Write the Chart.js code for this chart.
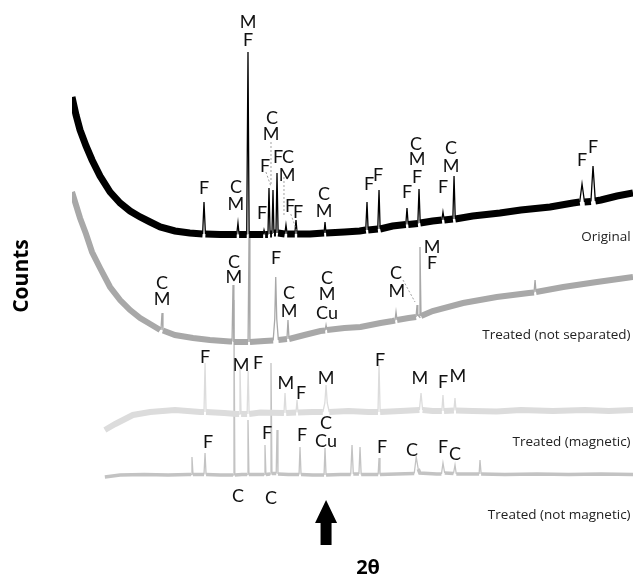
<!DOCTYPE html>
<html>
<head>
<meta charset="utf-8">
<script src="https://cdn.jsdelivr.net/npm/chart.js@4.4.0/dist/chart.umd.min.js"></script>
<style>
  html, body { margin: 0; padding: 0; background: #fff; }
  canvas { display: block; }
</style>
</head>
<body>
<canvas id="xrd" width="633" height="579"></canvas>
<script>
// [2θ (deg), counts] per pattern, already offset vertically like the figure
const original = [
  [10.0,4820],[10.5,4640],[11.0,4490],[11.75,4330],[12.5,4190],[13.5,4030],[14.75,3870],[16.0,3760],
  [17.25,3680],[18.5,3620],[19.75,3570],[21.0,3520],[22.85,3480],[24.7,3460],
  [26.3,3450],[26.47,3770],[26.65,3450],[28.5,3445],
  [30.55,3445],[30.71,3560],[30.85,3445],
  [31.8,3445],[31.96,5270],[32.1,3445],[33.0,3445],
  [33.85,3445],[33.96,3490],[34.1,3445],
  [34.45,3445],[34.58,3910],[34.72,3450],
  [34.95,3450],[35.08,3890],[35.2,3460],
  [35.45,3460],[35.58,4060],[35.72,3460],
  [36.55,3450],[36.7,3540],[36.85,3450],
  [37.8,3450],[37.95,3590],[38.1,3450],[39.7,3450],
  [41.45,3460],[41.57,3570],[41.7,3460],[44.0,3470],[45.9,3480],
  [46.65,3490],[46.81,3770],[46.95,3490],
  [48.15,3500],[48.31,3890],[48.45,3500],[50.0,3530],
  [51.65,3545],[51.8,3710],[51.95,3545],
  [53.15,3555],[53.3,3900],[53.45,3560],[55.0,3580],
  [56.15,3590],[56.29,3670],[56.45,3590],
  [57.52,3600],[57.67,4030],[57.82,3600],
  [60.0,3630],[63.4,3660],[66.0,3690],[69.65,3720],[72.5,3760],
  [73.35,3770],[73.64,3950],[73.95,3770],
  [74.75,3775],[75.01,4130],[75.3,3780],
  [76.0,3790],[78.0,3830],[80.0,3860]
];
const notSeparated = [
  [10.0,3870],[10.5,3740],[11.0,3610],[11.75,3450],[12.5,3270],[13.5,3110],[14.75,2920],[16.0,2790],
  [17.25,2690],[18.5,2610],[19.75,2550],[21.0,2490],
  [21.1,2490],[21.23,2660],[21.35,2485],
  [22.85,2440],[25.1,2410],[27.2,2390],[29.7,2375],
  [29.97,2375],[30.09,2940],[30.2,2370],[31.0,2370],
  [31.97,2370],[32.09,3440],[32.2,2370],[34.0,2380],
  [35.1,2385],[35.3,2600],[35.42,3020],[35.55,2600],[35.75,2390],
  [36.82,2400],[36.95,2590],[37.08,2400],
  [39.0,2440],[41.0,2480],
  [41.58,2485],[41.7,2540],[41.82,2490],
  [44.0,2510],[46.0,2520],[48.5,2560],[50.0,2580],
  [50.3,2585],[50.43,2670],[50.56,2590],[52.0,2610],
  [52.93,2620],[53.05,2740],[53.15,2630],
  [53.3,2640],[53.42,3320],[53.55,2630],
  [55.0,2680],[58.8,2760],[63.0,2820],[67.0,2860],
  [67.65,2865],[67.78,2990],[67.9,2870],
  [71.3,2920],[75.5,2970],[80.0,3020]
];
const magnetic = [
  [14.1,1490],[15.4,1550],[17.6,1640],[19.75,1670],[22.85,1690],[26.0,1670],
  [26.47,1670],[26.6,2160],[26.73,1670],
  [29.0,1660],[30.5,1650],
  [30.85,1650],[30.96,2110],[31.1,1650],
  [31.85,1650],[31.98,2080],[32.1,1650],[33.5,1665],
  [36.45,1660],[36.58,1860],[36.72,1660],
  [37.95,1665],[38.08,1790],[38.2,1665],[40.0,1670],
  [41.3,1670],[41.55,1760],[41.7,1940],[41.85,1760],[42.1,1670],
  [44.5,1680],[47.0,1670],
  [48.18,1670],[48.31,2140],[48.45,1670],[51.0,1680],
  [53.35,1690],[53.55,1860],[53.75,1690],[55.0,1680],
  [56.15,1680],[56.29,1840],[56.42,1680],
  [57.65,1685],[57.79,1810],[57.92,1685],
  [60.0,1680],[63.0,1675],[66.0,1690],[70.0,1680],[74.0,1690],[77.0,1680],[80.0,1690]
];
const notMagnetic = [
  [14.1,1020],[16.0,1040],[19.0,1045],[22.0,1040],[24.5,1045],
  [24.85,1045],[24.97,1220],[25.1,1045],
  [26.47,1045],[26.6,1260],[26.73,1045],
  [28.5,1040],[29.9,1040],
  [30.1,1040],[30.21,2790],[30.32,1040],[31.2,1045],
  [31.85,1045],[31.96,1590],[32.08,1045],[33.5,1045],
  [33.97,1045],[34.08,1340],[34.2,1045],
  [34.72,1050],[34.83,2160],[34.95,1055],
  [35.48,1055],[35.58,1490],[35.7,1050],[37.0,1045],
  [38.33,1045],[38.45,1320],[38.58,1045],[40.0,1040],
  [41.45,1040],[41.57,1310],[41.7,1040],[43.5,1045],
  [44.78,1045],[44.94,1340],[45.1,1050],
  [45.8,1050],[45.94,1320],[46.08,1045],[47.5,1045],
  [48.2,1045],[48.31,1210],[48.43,1045],[50.5,1050],
  [52.7,1055],[52.95,1220],[53.2,1100],[53.4,1060],[55.5,1050],
  [56.1,1050],[56.29,1160],[56.5,1060],
  [57.6,1055],[57.79,1140],[57.95,1050],[60.0,1050],
  [60.8,1050],[60.91,1190],[61.05,1050],
  [64.0,1045],[68.0,1050],[72.0,1045],[76.0,1050],[80.0,1045]
];

const seriesNames = ['Original', 'Treated (not separated)', 'Treated (magnetic)', 'Treated (not magnetic)'];
const seriesData = [original, notSeparated, magnetic, notMagnetic];
const seriesColors = ['#000000', '#a8a8a8', '#dcdcdc', '#c3c3c3'];
const baseWidths = [7, 6, 6, 3.5];
const namePos = [[79.7, 3420], [79.7, 2440], [79.7, 1370], [79.7, 640]];

// phase labels: [text, 2θ, counts]
const phaseLabels = [
  ['M',31.96,5570],['F',31.96,5390],['F',26.47,3910],['C',30.46,3920],['M',30.46,3750],
  ['F',33.71,3660],['C',34.96,4610],['M',34.83,4450],['F',34.08,4130],['F',35.7,4220],
  ['C',36.95,4220],['M',36.83,4040],['F',37.2,3730],['F',38.2,3670],['C',41.45,3850],
  ['M',41.45,3680],['F',47.06,3950],['F',48.18,4040],['F',51.8,3870],['C',52.93,4350],
  ['M',53.05,4200],['F',53.05,4020],['F',56.29,3920],['C',57.29,4310],['M',57.29,4130],
  ['F',73.64,4190],['F',75.01,4320],
  ['C',21.23,2960],['M',21.23,2800],['C',30.21,3170],['M',30.21,3020],['F',35.46,3210],
  ['C',37.08,2860],['M',37.08,2680],['C',41.82,3010],['M',41.82,2850],['Cu',41.82,2660],
  ['C',50.43,3060],['M',50.55,2880],['M',54.92,3320],['F',54.92,3160],
  ['F',26.6,2220],['M',31.09,2140],['F',33.21,2160],['M',36.7,1960],['F',38.58,1860],
  ['M',41.7,2010],['F',48.43,2190],['M',53.42,2010],['F',56.29,1970],['M',58.16,2030],
  ['F',26.97,1370],['F',34.33,1460],['F',38.7,1440],['C',41.7,1560],['Cu',41.7,1380],
  ['F',48.68,1320],['C',52.43,1290],['F',56.29,1320],['C',57.79,1250],
  ['C',30.71,830],['C',34.83,810]
];
// thin leader lines from labels to peaks: [2θ1, counts1, 2θ2, counts2]
const leaders = [
  [34.83,4370,34.83,3930],[34.2,4070,34.8,3930],[37.3,3650,38.0,3490],
  [36.45,4020,36.45,3620],[51.3,2990,52.8,2770]
];
const arrowAt = [41.7, 790, 340];  // 2θ, tip counts, tail counts

const overlay = {
  id: 'overlay',
  afterDatasetsDraw(chart) {
    const ctx = chart.ctx;
    const x = chart.scales.x, y = chart.scales.y;
    ctx.save();
    ctx.strokeStyle = '#8a8a8a';
    ctx.lineWidth = 0.8;
    ctx.setLineDash([2, 2]);
    leaders.forEach(l => {
      ctx.beginPath();
      ctx.moveTo(x.getPixelForValue(l[0]), y.getPixelForValue(l[1]));
      ctx.lineTo(x.getPixelForValue(l[2]), y.getPixelForValue(l[3]));
      ctx.stroke();
    });
    ctx.setLineDash([]);

    ctx.fillStyle = '#111';
    ctx.textAlign = 'center';
    ctx.textBaseline = 'middle';
    ctx.font = '18px Lato';
    phaseLabels.forEach(p => {
      ctx.fillText(p[0], x.getPixelForValue(p[1]), y.getPixelForValue(p[2]));
    });

    ctx.textAlign = 'right';
    ctx.font = '13.5px "Open Sans"';
    ctx.fillStyle = '#222';
    seriesNames.forEach((n, i) => {
      ctx.fillText(n, x.getPixelForValue(namePos[i][0]), y.getPixelForValue(namePos[i][1]));
    });

    // arrow marking the Cu peak
    const ax = x.getPixelForValue(arrowAt[0]);
    const tip = y.getPixelForValue(arrowAt[1]);
    const tail = y.getPixelForValue(arrowAt[2]);
    ctx.fillStyle = '#000';
    ctx.beginPath();
    ctx.moveTo(ax, tip);
    ctx.lineTo(ax + 11, tip + 23);
    ctx.lineTo(ax + 5.5, tip + 23);
    ctx.lineTo(ax + 5.5, tail);
    ctx.lineTo(ax - 5.5, tail);
    ctx.lineTo(ax - 5.5, tip + 23);
    ctx.lineTo(ax - 11, tip + 23);
    ctx.closePath();
    ctx.fill();

    ctx.textAlign = 'center';
    ctx.font = 'bold 20px "Open Sans"';
    ctx.fillText('2θ', x.getPixelForValue(46.94), y.getPixelForValue(110));
    ctx.translate(x.getPixelForValue(3.76), y.getPixelForValue(3030));
    ctx.rotate(-Math.PI / 2);
    ctx.font = 'bold 21px "Open Sans"';
    ctx.fillText('Counts', 0, 0);
    ctx.restore();
  }
};

new Chart(document.getElementById('xrd'), {
  type: 'line',
  data: {
    datasets: seriesData.map((d, i) => ({
      label: seriesNames[i],
      data: d.map(p => ({ x: p[0], y: p[1] })),
      borderColor: seriesColors[i],
      borderWidth: baseWidths[i],
      pointRadius: 0,
      tension: 0,
      segment: {
        borderWidth: c => (Math.abs(c.p1.x - c.p0.x) < 3 && Math.abs(c.p1.y - c.p0.y) > 4) ? 1.3 : baseWidths[i]
      }
    }))
  },
  options: {
    responsive: false,
    animation: false,
    devicePixelRatio: 1,
    layout: { padding: { left: 72, right: 0, top: 0, bottom: 0 } },
    scales: {
      x: { type: 'linear', min: 10, max: 80, display: false },
      y: { min: 0, max: 5790, display: false }
    },
    plugins: { legend: { display: false }, tooltip: { enabled: false } }
  },
  plugins: [overlay]
});
</script>
</body>
</html>
